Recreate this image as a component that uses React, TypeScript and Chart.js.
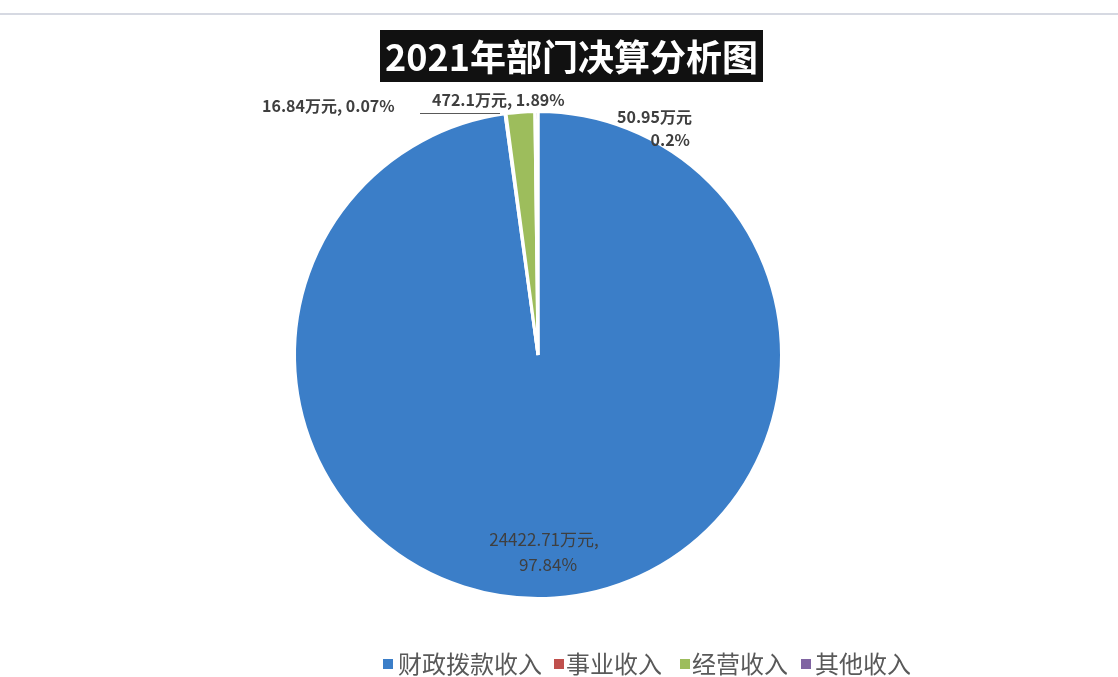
import React, { useEffect, useRef } from "react";
import { Chart, registerables } from "chart.js";

Chart.register(...registerables);

const categories = ["财政拨款收入", "事业收入", "经营收入", "其他收入"];
const amounts = [24422.71, 16.84, 472.1, 50.95];
const percents = ["97.84%", "0.07%", "1.89%", "0.2%"];
const colors = ["#3b7ec8", "#c0504d", "#9dbd5c", "#8064a2"];
const titleText = "2021年部门决算分析图";

const FONT = '"Noto Sans CJK SC", "Liberation Sans", sans-serif';

const decorPlugin = {
  id: "decor",
  beforeDraw(chart: any) {
    const ctx = chart.ctx;
    ctx.save();
    ctx.fillStyle = "#ffffff";
    ctx.fillRect(0, 0, chart.width, chart.height);
    ctx.strokeStyle = "#c9cdd8";
    ctx.lineWidth = 1.5;
    ctx.beginPath();
    ctx.moveTo(0, 14);
    ctx.lineTo(chart.width, 14);
    ctx.stroke();
    ctx.fillStyle = "#111111";
    ctx.fillRect(380, 30, 383, 52);
    ctx.fillStyle = "#ffffff";
    ctx.font = `bold 36px ${FONT}`;
    ctx.textAlign = "center";
    ctx.textBaseline = "middle";
    ctx.fillText(titleText, 571.5, 57);
    ctx.restore();
  },
  afterDraw(chart: any) {
    const ctx = chart.ctx;
    const meta = chart.getDatasetMeta(0);
    ctx.save();
    ctx.fillStyle = "#3f3f3f";
    ctx.textBaseline = "middle";
    const arc0 = meta.data[0];
    const cx = arc0.x;
    const cy = arc0.y;
    ctx.font = `17px ${FONT}`;
    ctx.textAlign = "center";
    ctx.fillText(`${amounts[0]}万元,`, cx + 6, cy + 185);
    ctx.fillText(percents[0], cx + 10, cy + 210);

    ctx.font = `bold 16px ${FONT}`;
    ctx.textAlign = "left";
    ctx.fillText(`${amounts[1]}万元, ${percents[1]}`, 262, 106);
    ctx.fillText(`${amounts[2]}万元, ${percents[2]}`, 432, 100);
    ctx.textAlign = "right";
    ctx.fillText(`${amounts[3]}万元`, 692, 117);
    ctx.fillText(percents[3], 690, 140);

    ctx.strokeStyle = "#595959";
    ctx.lineWidth = 1;
    ctx.beginPath();
    ctx.moveTo(420, 113.5);
    ctx.lineTo(500, 113.5);
    ctx.stroke();

    const items = [
      { box: 383, text: 398 },
      { box: 554, text: 566 },
      { box: 680, text: 692 },
      { box: 801, text: 815 },
    ];
    ctx.font = `24px ${FONT}`;
    ctx.textAlign = "left";
    const labels = chart.data.labels;
    const bg = chart.data.datasets[0].backgroundColor;
    labels.forEach((lab: string, i: number) => {
      ctx.fillStyle = bg[i];
      ctx.fillRect(items[i].box, 659, 10, 10);
      ctx.fillStyle = "#595959";
      ctx.fillText(lab, items[i].text, 664);
    });
    ctx.restore();
  },
};

export default function App() {
  const ref = useRef<HTMLCanvasElement | null>(null);
  useEffect(() => {
    document.body.style.margin = "0";
    if (!ref.current) return;
    const chart = new Chart(ref.current, {
      type: "pie",
      data: {
        labels: categories,
        datasets: [
          {
            data: amounts,
            backgroundColor: colors,
            borderColor: "#ffffff",
            borderWidth: 3,
          },
        ],
      },
      options: {
        animation: false,
        responsive: false,
        rotation: 0,
        layout: { padding: { left: 293, right: 335, top: 110, bottom: 77 } },
        plugins: {
          legend: { display: false },
          tooltip: { enabled: false },
          title: { display: false },
        },
      },
      plugins: [decorPlugin],
    });
    return () => chart.destroy();
  }, []);
  return (
    <div style={{ width: 1118, height: 677 }}>
      <canvas ref={ref} width={1118} height={677} style={{ display: "block" }} />
    </div>
  );
}
